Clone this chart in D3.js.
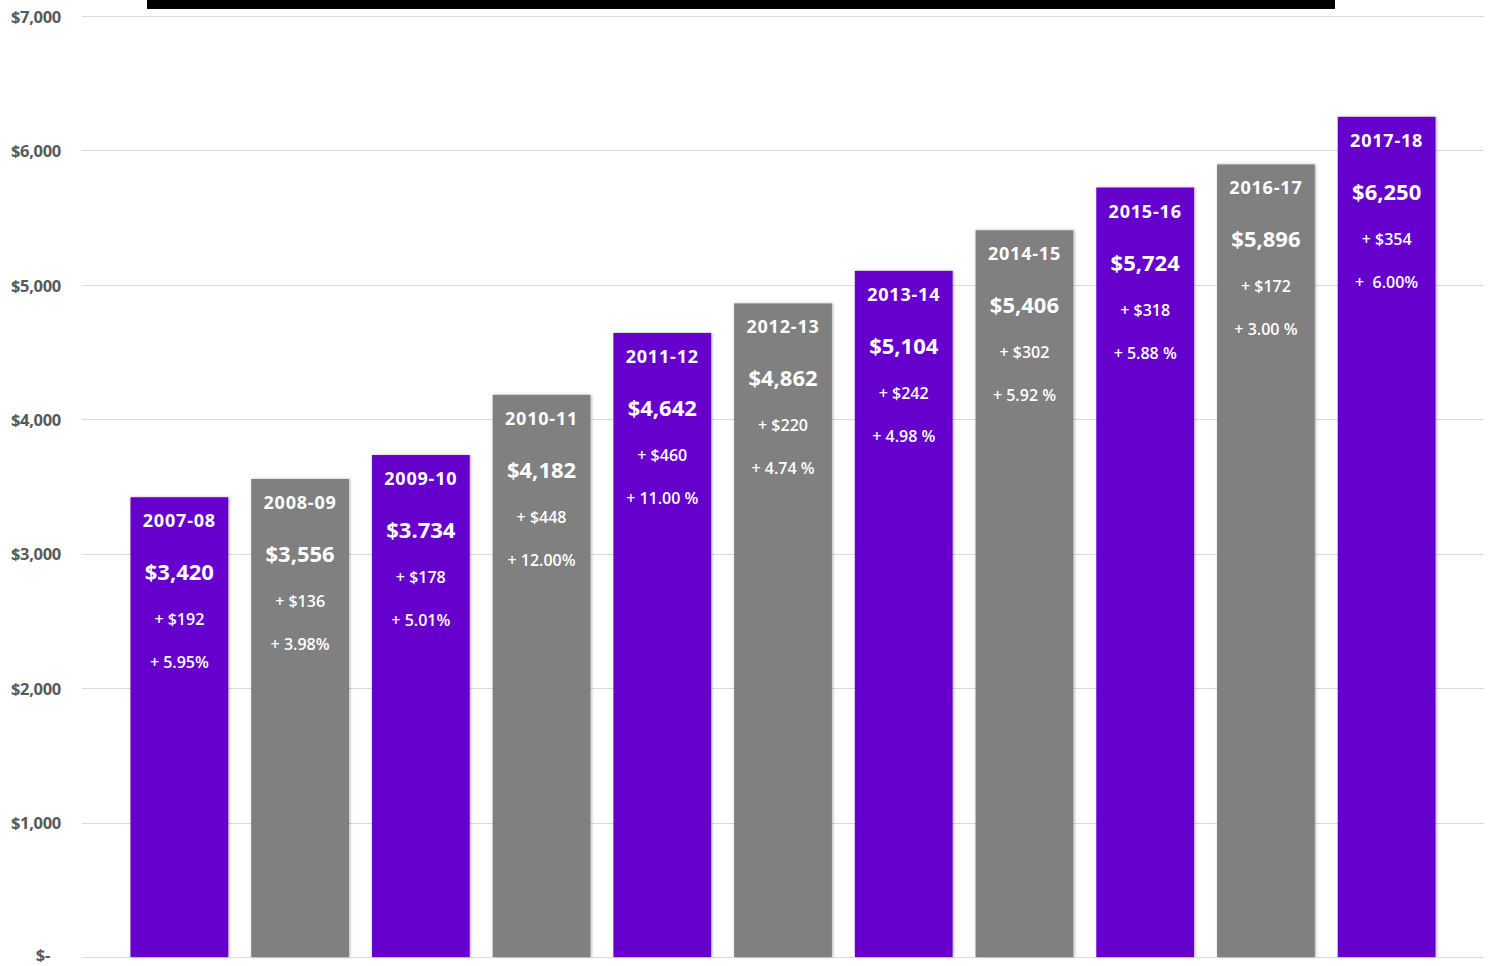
<!DOCTYPE html>
<html>
<head>
<meta charset="utf-8">
<script src="https://cdn.jsdelivr.net/npm/d3@7"></script>
<style>
  body { margin: 0; background: #fff; }
  svg text { font-family: "Open Sans", "Noto Sans", sans-serif; }
</style>
</head>
<body>
<div id="chart"></div>
<script>
// chart data
var years = ["2007-08", "2008-09", "2009-10", "2010-11", "2011-12", "2012-13",
  "2013-14", "2014-15", "2015-16", "2016-17", "2017-18"];
var costs = [3420, 3556, 3734, 4182, 4642, 4862, 5104, 5406, 5724, 5896, 6250];
var costLabels = ["$3,420", "$3,556", "$3.734", "$4,182", "$4,642", "$4,862",
  "$5,104", "$5,406", "$5,724", "$5,896", "$6,250"];
var increases = ["+ $192", "+ $136", "+ $178", "+ $448", "+ $460", "+ $220",
  "+ $242", "+ $302", "+ $318", "+ $172", "+ $354"];
var pctLabels = ["+ 5.95%", "+ 3.98%", "+ 5.01%", "+ 12.00%", "+ 11.00 %", "+ 4.74 %",
  "+ 4.98 %", "+ 5.92 %", "+ 5.88 %", "+ 3.00 %", "+  6.00%"];
var yTicks = [0, 1000, 2000, 3000, 4000, 5000, 6000, 7000];

var svgWidth = 1492, svgHeight = 966;
var purple = "#6600cc", gray = "#808080";

var svg = d3.select("#chart").append("svg")
  .attr("width", svgWidth)
  .attr("height", svgHeight);

var yScale = d3.scaleLinear().domain([0, 7000]).range([957, 16]);
var xScale = d3.scaleBand().domain(years).range([119, 1447]).paddingInner(0.19).paddingOuter(0.095);

// gridlines
svg.append("g").selectAll("line")
  .data(yTicks)
  .enter().append("line")
  .attr("x1", 82).attr("x2", 1484)
  .attr("y1", d => Math.round(yScale(d)) + 0.5)
  .attr("y2", d => Math.round(yScale(d)) + 0.5)
  .attr("stroke", "#d9d9d9")
  .attr("stroke-width", 1);

// y axis labels
svg.append("g").selectAll("text")
  .data(yTicks)
  .enter().append("text")
  .attr("x", d => d === 0 ? 50 : 61)
  .attr("y", d => d === 0 ? yScale(d) - 2 : yScale(d) + 1)
  .attr("dy", "0.35em")
  .attr("text-anchor", "end")
  .attr("fill", "#595959")
  .attr("font-size", 16.5)
  .attr("font-weight", "bold")
  .attr("letter-spacing", -0.3)
  .text(d => d === 0 ? "$-" : "$" + d3.format(",")(d));

// bar shadow
var defs = svg.append("defs");
var filter = defs.append("filter").attr("id", "shadow")
  .attr("x", "-10%").attr("y", "-10%").attr("width", "130%").attr("height", "120%");
filter.append("feDropShadow")
  .attr("dx", 1).attr("dy", 0).attr("stdDeviation", 1.5)
  .attr("flood-color", "#000").attr("flood-opacity", 0.3);

var bars = svg.append("g").selectAll("g")
  .data(years)
  .enter().append("g");

bars.append("rect")
  .attr("x", d => xScale(d))
  .attr("y", (d, i) => yScale(costs[i]))
  .attr("width", xScale.bandwidth())
  .attr("height", (d, i) => yScale(0) - yScale(costs[i]))
  .attr("fill", (d, i) => i % 2 === 0 ? purple : gray)
  .attr("filter", "url(#shadow)");

var cx = d => xScale(d) + xScale.bandwidth() / 2;

// year label
bars.append("text")
  .attr("x", cx)
  .attr("y", (d, i) => yScale(costs[i]) + 30)
  .attr("text-anchor", "middle")
  .attr("fill", "#fff")
  .attr("font-size", 18)
  .attr("font-weight", "bold")
  .attr("letter-spacing", 0.8)
  .text(d => d);

// cost label
bars.append("text")
  .attr("x", cx)
  .attr("y", (d, i) => yScale(costs[i]) + 83)
  .attr("text-anchor", "middle")
  .attr("fill", "#fff")
  .attr("font-size", 22)
  .attr("font-weight", "bold")
  .text((d, i) => costLabels[i]);

// increase label
bars.append("text")
  .attr("x", cx)
  .attr("y", (d, i) => yScale(costs[i]) + 128)
  .attr("text-anchor", "middle")
  .attr("fill", "#fff")
  .attr("font-size", 16)
  .attr("font-weight", 600)
  .text((d, i) => increases[i]);

// percent label
bars.append("text")
  .attr("x", cx)
  .attr("y", (d, i) => yScale(costs[i]) + 171)
  .attr("text-anchor", "middle")
  .attr("fill", "#fff")
  .attr("font-size", 16)
  .attr("font-weight", 600)
  .style("white-space", "pre")
  .text((d, i) => pctLabels[i]);

// cropped title bar at top
svg.append("rect")
  .attr("x", 147).attr("y", 0)
  .attr("width", 1188).attr("height", 9)
  .attr("fill", "#000");
</script>
</body>
</html>
